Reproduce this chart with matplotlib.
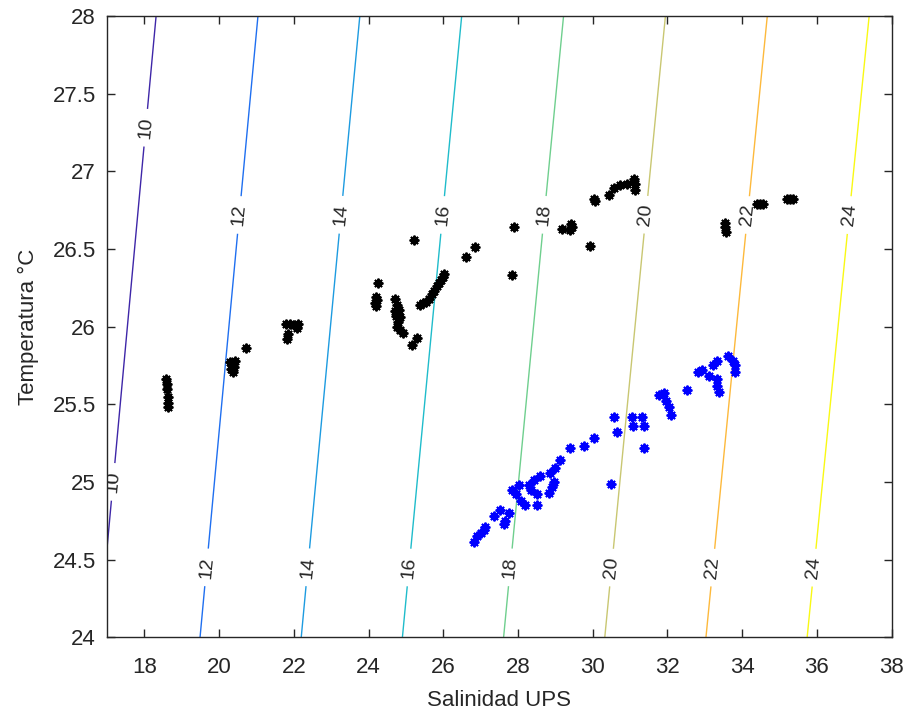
import numpy as np
import matplotlib
matplotlib.use('Agg')
import matplotlib.pyplot as plt
from matplotlib.ticker import FormatStrFormatter

# sigma-t isolines
levels = [10, 12, 14, 16, 18, 20, 22, 24]
level_colors = ['#3e26a8', '#1f6ff0', '#1d9be0', '#1fbccb', '#6fcf8e', '#c9c772', '#fdb93c', '#f9f914']

# label spots (S, T)
label_pos = [(18.07, 27.28), (17.19, 25.0),
             (20.5, 26.72), (19.67, 24.45),
             (23.28, 26.72), (22.4, 24.45),
             (25.95, 26.72), (25.05, 24.45),
             (28.7, 26.72), (27.8, 24.45),
             (31.45, 26.72), (30.45, 24.45),
             (34.1, 26.72), (33.15, 24.45),
             (36.8, 26.72), (35.85, 24.45)]

# black stations
sal_k = [18.58, 18.6, 18.6, 18.62, 18.62, 18.63,
         20.28, 20.35, 20.42, 20.33, 20.38, 20.4, 20.72,
         21.8, 21.9, 22.0, 22.12, 22.08, 21.83, 21.85,
         24.24, 24.2, 24.18, 24.21, 24.22,
         24.71, 24.76, 24.82, 24.84, 24.79, 24.76, 24.84, 24.92, 24.7, 24.74,
         25.17, 25.3, 25.22,
         25.39, 25.47, 25.55, 25.62, 25.7, 25.75, 25.82, 25.88, 25.93, 25.98, 26.02,
         26.6, 26.86, 27.89, 27.85,
         29.18, 29.4, 29.45, 29.42, 29.94,
         30.03, 30.07, 30.43, 30.56, 30.74, 30.92, 31.1, 31.14, 31.12,
         33.55, 33.55, 33.56,
         34.4, 34.48, 34.56, 35.2, 35.28, 35.36]
temp_k = [25.66, 25.63, 25.6, 25.55, 25.51, 25.48,
          25.77, 25.76, 25.78, 25.73, 25.71, 25.74, 25.86,
          26.02, 26.02, 26.01, 26.02, 25.99, 25.92, 25.95,
          26.28, 26.19, 26.15, 26.13, 26.17,
          26.18, 26.14, 26.11, 26.06, 26.03, 26.0, 25.98, 25.96, 26.1, 26.07,
          25.88, 25.93, 26.56,
          26.14, 26.15, 26.16, 26.18, 26.21, 26.23, 26.26, 26.28, 26.3, 26.32, 26.34,
          26.45, 26.51, 26.64, 26.33,
          26.63, 26.62, 26.64, 26.66, 26.52,
          26.82, 26.81, 26.85, 26.89, 26.91, 26.92, 26.95, 26.88, 26.92,
          26.67, 26.64, 26.61,
          26.79, 26.79, 26.79, 26.82, 26.82, 26.82]

# blue stations
sal_b = [26.82, 26.91, 27.0, 27.09, 27.13, 27.35, 27.53, 27.62, 27.66, 27.75,
         27.85, 27.94, 28.07, 28.2, 28.02, 28.34,
         28.29, 28.43, 28.52, 28.52, 28.6,
         28.82, 28.91, 28.96, 28.87, 29.0, 29.13,
         29.38, 29.76, 30.03, 30.49,
         30.58, 30.65, 31.05, 31.08, 31.32, 31.36, 31.36,
         31.77, 31.9, 31.96, 32.04, 32.1, 32.52,
         32.83, 32.92, 33.1, 33.23, 33.32, 33.63, 33.76, 33.8, 33.8,
         33.32, 33.32, 33.37]
temp_b = [24.615, 24.65, 24.67, 24.69, 24.71, 24.78, 24.82, 24.73, 24.75, 24.8,
          24.95, 24.92, 24.88, 24.85, 24.98, 24.95,
          24.98, 25.01, 24.92, 24.85, 25.04,
          24.93, 24.97, 25.0, 25.06, 25.09, 25.14,
          25.22, 25.23, 25.28, 24.99,
          25.42, 25.32, 25.42, 25.36, 25.42, 25.36, 25.22,
          25.56, 25.57, 25.52, 25.48, 25.43, 25.59,
          25.71, 25.72, 25.68, 25.75, 25.78, 25.81, 25.78, 25.75, 25.71,
          25.66, 25.62, 25.58]

# density model: sigma = a + b*S + c*T + d*S*T
rho_a, rho_b, rho_c, rho_d = 3.8486, 0.76822, -0.26005, -0.00124


def sigma_t(S, T):
    return rho_a + rho_b * S + rho_c * T + rho_d * S * T


plt.rcParams['font.family'] = ['Liberation Sans', 'DejaVu Sans']
gray = '#262626'

fig = plt.figure(figsize=(9.07, 7.15), dpi=100)
ax = fig.add_axes([0.118, 0.1087, 0.865, 0.8689])

s_grid, t_grid = np.meshgrid(np.linspace(17, 38, 300), np.linspace(24, 28, 200))
cs = ax.contour(s_grid, t_grid, sigma_t(s_grid, t_grid), levels=levels,
                colors=level_colors, linewidths=1.0)
lbls = ax.clabel(cs, manual=label_pos, inline=True, fmt='%d', fontsize=14,
                 inline_spacing=8)
for t in lbls:
    t.set_color(gray)

ax.plot(sal_k, temp_k, linestyle='none', marker=(8, 2, 0), color='black',
        markersize=7, markeredgewidth=1.4)
ax.plot(sal_b, temp_b, linestyle='none', marker=(8, 2, 0), color='blue',
        markersize=7, markeredgewidth=1.4)

ax.set_xlim(17, 38)
ax.set_ylim(24, 28)
ax.set_xticks(np.arange(18, 39, 2))
ax.set_yticks(np.arange(24, 28.01, 0.5))
ax.yaxis.set_major_formatter(FormatStrFormatter('%g'))
ax.tick_params(direction='in', top=True, right=True, length=6, width=1,
               labelsize=16, colors=gray)
ax.tick_params(axis='x', pad=14)
ax.tick_params(axis='y', pad=8)
for sp in ax.spines.values():
    sp.set_color(gray)
    sp.set_linewidth(1.0)

ax.set_xlabel('Salinidad UPS', fontsize=16, color=gray, labelpad=9)
ax.set_ylabel('Temperatura °C', fontsize=16, color=gray, labelpad=10)

fig.savefig('out.png', dpi=100)
